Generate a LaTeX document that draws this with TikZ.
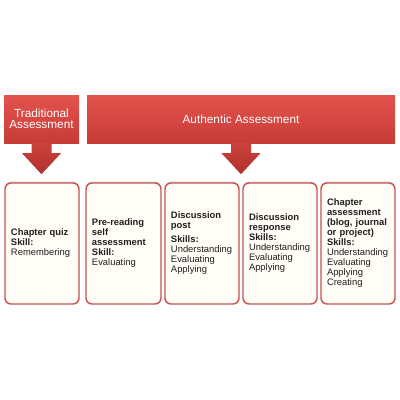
\documentclass[tikz,border=0pt]{standalone}
\usepackage{fontspec}
\setmainfont{Liberation Sans}
\usetikzlibrary{shadows,calc}
\definecolor{hdrtop}{HTML}{E4534E}
\definecolor{hdrbot}{HTML}{C63B36}
\definecolor{arrtop}{HTML}{CC423D}
\definecolor{arrbot}{HTML}{B0302C}
\definecolor{boxred}{HTML}{C65451}
\definecolor{boxfill}{HTML}{FFFDF6}
\begin{document}
\begin{tikzpicture}[x=1pt,y=-1pt,
  header/.style={rectangle, top color=hdrtop, bottom color=hdrbot, draw=none,
    inner sep=0pt, text=white, font=\fontsize{11.8}{11.5}\selectfont, align=center,
    minimum height=48pt},
  card/.style={rectangle, rounded corners=6pt, draw=boxred, line width=1.4pt,
    fill=boxfill, minimum height=121pt, inner xsep=6pt, inner ysep=0pt,
    align=left, font=\fontsize{9.4}{10}\selectfont, text=black!88,
    general shadow={shadow yshift=1.5pt, fill=black, opacity=0.18}},
  arr/.style={top color=arrtop, bottom color=arrbot, draw=none}
]
\useasboundingbox[fill=white] (0,0) rectangle (400,400);

\node[header, minimum width=75pt] (trad) at (41.5,119) {Traditional\\Assessment};
\node[header, minimum width=308pt] (auth) at (241,119) {Authentic Assessment};

\foreach \n in {trad,auth}{
  \path[arr] ($(\n.south)+(-10,0)$) -- ($(\n.south)+(-10,10)$) -- ($(\n.south)+(-19.5,10)$)
    -- ($(\n.south)+(0,31)$) -- ($(\n.south)+(19.5,10)$) -- ($(\n.south)+(10,10)$)
    -- ($(\n.south)+(10,0)$) -- cycle;
}

\node[card, text width=62pt] (c1) at (42,243.5)
  {\textbf{Chapter quiz}\\\textbf{Skill:}\\Remembering};
\node[card, text width=63pt] (c2) at (123.5,243.5)
  {\textbf{Pre-reading}\\\textbf{self}\\\textbf{assessment}\\\textbf{Skill:}\\Evaluating};
\node[card, text width=62pt] (c3) at (202,243.5)
  {\textbf{Discussion}\\\textbf{post}\\[4pt]\textbf{Skills:}\\Understanding\\Evaluating\\Applying};
\node[card, text width=62pt] (c4) at (280,243.5)
  {\textbf{Discussion}\\\textbf{response}\\\textbf{Skills:}\\Understanding\\Evaluating\\Applying};
\node[card, text width=62pt] (c5) at (358,243.5)
  {\textbf{Chapter}\\\textbf{assessment}\\\textbf{(blog, journal}\\\textbf{or project)}\\\textbf{Skills:}\\Understanding\\Evaluating\\Applying\\Creating};
\end{tikzpicture}
\end{document}
